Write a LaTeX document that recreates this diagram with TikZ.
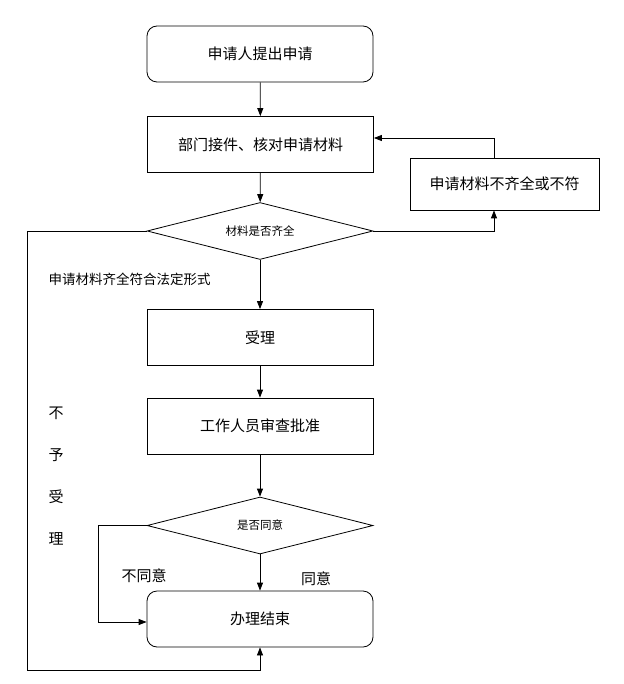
\documentclass[tikz,border=0pt]{standalone}
\usepackage{fontspec}
\newfontfamily\cjk{Noto Sans CJK SC}
\usetikzlibrary{shapes.geometric,arrows.meta,positioning}

\begin{document}
\begin{tikzpicture}[x=1pt,y=-1pt,
    every node/.style={font=\cjk},
    proc/.style={draw, line width=0.8pt, minimum width=226pt, minimum height=56pt,
      font=\cjk\fontsize{15}{18}\selectfont},
    term/.style={proc, rounded corners=10pt},
    decide/.style={draw, diamond, aspect=4, line width=0.8pt, inner sep=0pt,
      minimum width=226pt, minimum height=57pt, font=\cjk\fontsize{11.5}{14}\selectfont},
    line/.style={draw, line width=0.8pt, -{Triangle[length=8pt,width=6pt]}},
    lbl/.style={font=\cjk\fontsize{15}{18}\selectfont}]
  \useasboundingbox (0,0) rectangle (623,684);
  % main column
  \node[term] (apply) at (260,54) {申请人提出申请};
  \node[proc] (check) at (260.5,144.5) {部门接件、核对申请材料};
  \node[decide] (full) at (260,231) {材料是否齐全};
  \node[proc] (accept) at (260,337.5) {受理};
  \node[proc] (review) at (260,426) {工作人员审查批准};
  \node[decide] (agree) at (260,525.5) {是否同意};
  \node[term] (done) at (260,619) {办理结束};
  % side box
  \node[proc, minimum width=189pt, minimum height=52pt] (lack) at (504.5,184) {申请材料不齐全或不符};
  % turning points
  \coordinate (lftdn) at (27,670);
  \coordinate (nobend) at (98,622);
  \draw[line] (apply) -- (check);
  \draw[line] (check) -- (full);
  \draw[line] (full) -- (accept);
  \draw[line] (accept) -- (review);
  \draw[line] (review) -- (agree);
  \draw[line] (agree) -- (done);
  \draw[line] (full.east) -| ([xshift=-10.5pt]lack.south);
  \draw[line] ([xshift=-10.5pt]lack.north) |- ([yshift=6.5pt]check.east);
  \draw[line] (full.west) -| (lftdn) -| (done.south);
  \draw[line] (agree.west) -| (nobend) -- (done.west |- nobend);
  % labels
  \node[anchor=west, font=\cjk\fontsize{13.5}{16}\selectfont] (okform) at (45,279) {申请材料齐全符合法定形式};
  \node[lbl] (disagree) at (144,576) {不同意};
  \node[lbl] (agreed) at (316,579) {同意};
  \node[align=center, font=\cjk\fontsize{15}{42}\selectfont] (reject) at (56,476) {不\\予\\受\\理};
\end{tikzpicture}
\end{document}
